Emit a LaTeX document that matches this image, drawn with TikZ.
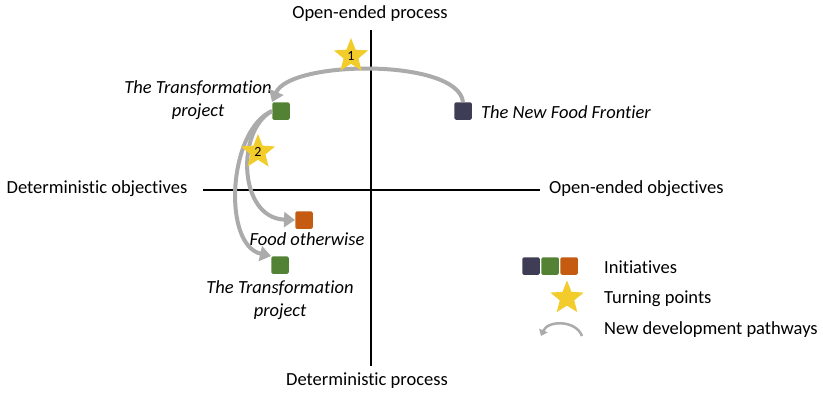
\documentclass[tikz,border=0pt]{standalone}
\usepackage{fontspec}
\setmainfont{Carlito}[Ligatures={NoCommon}]
\usetikzlibrary{shapes.geometric,arrows.meta}
\definecolor{cdark}{HTML}{3F3D56}
\definecolor{cgreen}{HTML}{548235}
\definecolor{corange}{HTML}{C55A11}
\definecolor{cstar}{HTML}{F2CC2A}
\definecolor{carrow}{HTML}{ABABAB}
\tikzset{
  initbox/.style={draw=none,rounded corners=1.5pt,minimum size=17.5pt,inner sep=0pt},
  turnstar/.style={star,star points=5,star point ratio=2.3,fill=cstar,minimum size=36pt,inner sep=0pt,font=\fontsize{14}{16}\selectfont},
  lbl/.style={font=\fontsize{18.5}{22.5}\selectfont,inner sep=0pt},
  ilbl/.style={font=\fontsize{18.5}{22.5}\selectfont\itshape,inner sep=0pt,align=center},
  axis/.style={line width=1.4pt,black},
  pathway/.style={draw=carrow,line width=4pt,-{Triangle[length=11pt,width=15pt]}},
}
\begin{document}
\begin{tikzpicture}[x=1pt,y=-1pt]
\useasboundingbox (0,0) rectangle (823,394);
% axes
\coordinate (vt) at (371,30);
\coordinate (vb) at (371,366);
\coordinate (hl) at (203,190);
\coordinate (hr) at (540,190);
\draw[axis] (vt) -- (vb);
\draw[axis] (hl) -- (hr);
\node[lbl] (top) at (370,14) {Open-ended process};
\node[lbl] (bot) at (367,381) {Deterministic process};
\node[lbl] (lft) at (97,189) {Deterministic objectives};
\node[lbl,anchor=west] (rgt) at (549,189) {Open-ended objectives};
% initiatives
\node[initbox,fill=cdark] (nff) at (463,111) {};
\node[initbox,fill=cgreen] (tp1) at (281,111) {};
\node[initbox,fill=corange] (fo) at (304,220) {};
\node[initbox,fill=cgreen] (tp2) at (280,265) {};
\node[ilbl] (tp1l) at (198,100) {The Transformation\\project};
\node[ilbl,anchor=west] (nffl) at (481,112) {The New Food Frontier};
\node[ilbl] (fol) at (307,239) {Food otherwise};
\node[ilbl] (tp2l) at (280,300) {The Transformation\\project};
% pathways
\draw[pathway] (nff.north) .. controls (458,58) and (290,60) .. (tp1.north west);
\draw[pathway] (tp1.west) .. controls (236,130) and (238,218) .. (fo.west);
\draw[pathway] (tp1.west) .. controls (228,130) and (222,245) .. (tp2.north west);
% turning points
\node[turnstar] (s1) at (351,56) {1};
\node[turnstar] (s2) at (258,152) {2};
% legend
\node[initbox,fill=cdark] (lg1) at (531,266) {};
\node[initbox,fill=cgreen] (lg2) at (550,266) {};
\node[initbox,fill=corange] (lg3) at (569,266) {};
\node[lbl,anchor=west] (lgt1) at (604,267) {Initiatives};
\node[turnstar,minimum size=35pt] (lgs) at (567,298) {};
\node[lbl,anchor=west] (lgt2) at (604,299) {Turning points};
\coordinate (la) at (582,336);
\coordinate (lb) at (541,336);
\draw[draw=carrow,line width=2.5pt,-{Triangle[length=6pt,width=9pt]}] (la) .. controls (576,320) and (548,320) .. (lb);
\node[lbl,anchor=west] (lgt3) at (604,330) {New development pathways};
\end{tikzpicture}
\end{document}
